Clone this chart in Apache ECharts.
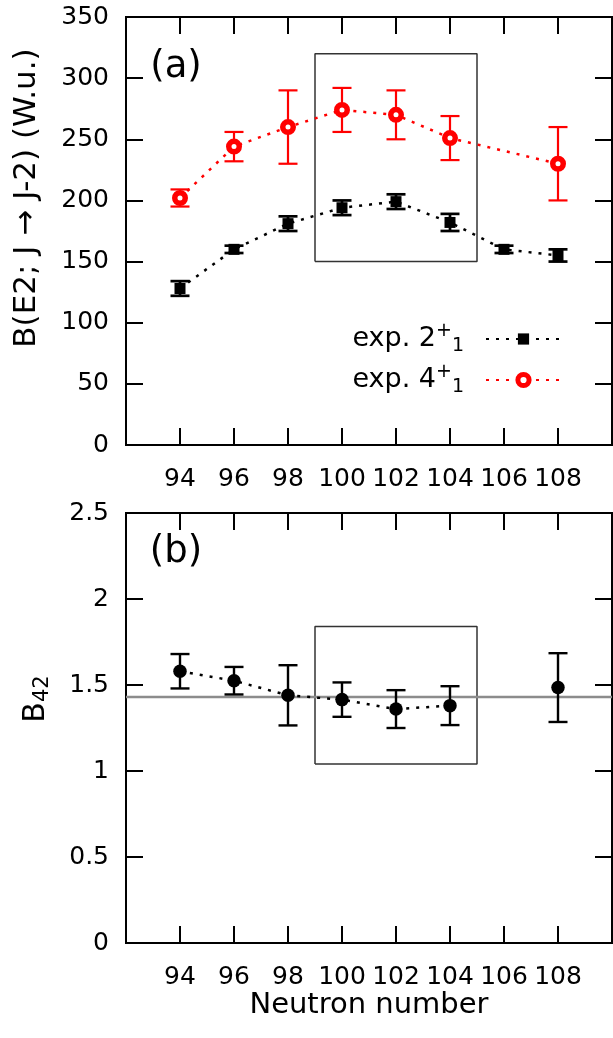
<!DOCTYPE html>
<html><head><meta charset="utf-8">
<script src="https://cdn.jsdelivr.net/npm/echarts@6/dist/echarts.min.js"></script>
<style>html,body{margin:0;padding:0;background:#fff}#c{width:613px;height:1038px}</style>
</head><body><div id="c"></div>
<script>
// ---- data ----
const neutrons2 = [94, 96, 98, 100, 102, 104, 106, 108];
const be2_2 = [128, 160, 181, 194, 199, 182, 160, 155];
const be2_2_err = [6, 3, 6, 6, 6, 7, 3, 5];
const neutrons4 = [94, 96, 98, 100, 102, 104, 108];
const be2_4 = [202, 244, 260, 274, 270, 251, 230];
const be2_4_err = [7, 12, 30, 18, 20, 18, 30];
const neutronsB42 = [94, 96, 98, 100, 102, 104, 108];
const b42 = [1.58, 1.525, 1.44, 1.415, 1.36, 1.38, 1.485];
const b42_err = [0.10, 0.08, 0.175, 0.10, 0.11, 0.113, 0.20];
const b42ConnectedCount = 6;
const su3Limit = 1.43;
const boxA = [[99, 150], [105, 150], [105, 320], [99, 320], [99, 150]];
const boxB = [[99, 1.04], [105, 1.04], [105, 1.84], [99, 1.84], [99, 1.04]];
const xTickLabels = [94, 96, 98, 100, 102, 104, 106, 108];
const xRange = [92, 110];
const yRangeA = [0, 350];
const yRangeB = [0, 2.5];
const name2 = 'exp. 2+1';
const name4 = 'exp. 4+1';

// ---- styles ----
const FF = 'DejaVu Sans';
const RED = '#ff0000';
const chart = echarts.init(document.getElementById('c'), null, {renderer: 'canvas'});

function xAxisCfg(gi, pos, labels, name) {
  return {
    type: 'value', gridIndex: gi, position: pos, min: xRange[0], max: xRange[1], interval: 2,
    axisLine: {show: false, onZero: false}, splitLine: {show: false},
    axisTick: {show: true, inside: true, length: 17, customValues: xTickLabels, lineStyle: {color: '#000', width: 2}},
    axisLabel: {show: labels, margin: 22, fontFamily: FF, fontSize: 25, color: '#000',
      customValues: xTickLabels, formatter: v => String(v)},
    name: name || '', nameLocation: 'middle', nameGap: 46,
    nameTextStyle: {fontFamily: FF, fontSize: 29, color: '#000'}
  };
}
function yAxisCfg(gi, pos, labels, range, interval) {
  return {
    type: 'value', gridIndex: gi, position: pos, min: range[0], max: range[1], interval: interval,
    axisLine: {show: false, onZero: false}, splitLine: {show: false},
    axisTick: {show: true, inside: true, length: 17, lineStyle: {color: '#000', width: 2}},
    axisLabel: {show: labels, margin: 17, fontFamily: FF, fontSize: 25, color: '#000'}
  };
}
function errSeries(xs, vals, errs, color, width, xi, yi) {
  return {
    type: 'custom', xAxisIndex: xi, yAxisIndex: yi, z: 3, silent: true,
    encode: {x: 0, y: [1, 2]},
    data: xs.map((x, i) => [x, vals[i] - errs[i], vals[i] + errs[i]]),
    renderItem: (params, api) => {
      const lo = api.coord([api.value(0), api.value(1)]);
      const hi = api.coord([api.value(0), api.value(2)]);
      const hw = 9.5;
      const style = {stroke: color, lineWidth: width, fill: null};
      return {type: 'group', children: [
        {type: 'line', shape: {x1: lo[0], y1: lo[1], x2: hi[0], y2: hi[1]}, style},
        {type: 'line', shape: {x1: lo[0] - hw, y1: lo[1], x2: lo[0] + hw, y2: lo[1]}, style},
        {type: 'line', shape: {x1: hi[0] - hw, y1: hi[1], x2: hi[0] + hw, y2: hi[1]}, style}
      ]};
    }
  };
}
const dotted = [3, 7];
const legendRich = {
  t: {fontFamily: FF, fontSize: 27, lineHeight: 34, color: '#000'},
  sup: {fontFamily: FF, fontSize: 19, lineHeight: 22, verticalAlign: 'top', color: '#000'},
  sub: {fontFamily: FF, fontSize: 19, lineHeight: 15, verticalAlign: 'bottom', color: '#000'},
  sp: {width: 17}
};

const option = {
  animation: false,
  backgroundColor: '#fff',
  grid: [
    {left: 126, top: 17, right: 1, height: 428, show: true, borderColor: '#000', borderWidth: 2, backgroundColor: 'transparent'},
    {left: 126, top: 513, right: 1, height: 430, show: true, borderColor: '#000', borderWidth: 2, backgroundColor: 'transparent'}
  ],
  xAxis: [
    xAxisCfg(0, 'bottom', true),
    xAxisCfg(0, 'top', false),
    xAxisCfg(1, 'bottom', true, 'Neutron number'),
    xAxisCfg(1, 'top', false)
  ],
  yAxis: [
    yAxisCfg(0, 'left', true, yRangeA, 50),
    yAxisCfg(0, 'right', false, yRangeA, 50),
    yAxisCfg(1, 'left', true, yRangeB, 0.5),
    yAxisCfg(1, 'right', false, yRangeB, 0.5)
  ],
  legend: {
    orient: 'vertical', align: 'right', right: 46, top: 317,
    itemWidth: 75, itemHeight: 14, itemGap: 7,
    data: [
      {name: name2},
      {name: name4, itemStyle: {borderWidth: 5}}
    ],
    formatter: n => n === name2 ? '{t|exp. 2}{sup|+}{sub|1}{sp|}' : '{t|exp. 4}{sup|+}{sub|1}{sp|}',
    textStyle: {rich: legendRich, fontFamily: FF, fontSize: 27, color: '#000'},
    selectedMode: false
  },
  graphic: [
    {type: 'text', x: 176, y: 67, style: {text: '(a)', fontFamily: FF, fontSize: 37, fill: '#000', align: 'center', verticalAlign: 'middle'}},
    {type: 'text', x: 176, y: 552, style: {text: '(b)', fontFamily: FF, fontSize: 37, fill: '#000', align: 'center', verticalAlign: 'middle'}},
    {type: 'text', x: 27, y: 198, rotation: Math.PI / 2, style: {text: 'B(E2; J \u2192 J-2) (W.u.)', fontFamily: FF, fontSize: 31, fill: '#000', align: 'center', verticalAlign: 'middle'}},
    {type: 'text', x: 36, y: 699, rotation: Math.PI / 2, style: {
      text: '{b|B}{s|42}', align: 'center', verticalAlign: 'middle',
      rich: {
        b: {fontFamily: FF, fontSize: 30, lineHeight: 34, fill: '#000'},
        s: {fontFamily: FF, fontSize: 21, lineHeight: 14, verticalAlign: 'bottom', fill: '#000'}
      }}}
  ],
  series: [
    // boxes
    {type: 'line', xAxisIndex: 0, yAxisIndex: 0, data: boxA, symbol: 'none', silent: true, z: 1,
      lineStyle: {color: '#333', width: 1.5}},
    {type: 'line', xAxisIndex: 2, yAxisIndex: 2, data: boxB, symbol: 'none', silent: true, z: 1,
      lineStyle: {color: '#333', width: 1.5}},
    // SU(3) line
    {type: 'line', xAxisIndex: 2, yAxisIndex: 2, data: [[xRange[0], su3Limit], [xRange[1], su3Limit]],
      symbol: 'none', silent: true, z: 1, lineStyle: {color: '#8c8c8c', width: 2.5}},
    // error bars
    errSeries(neutrons2, be2_2, be2_2_err, '#000', 2.7, 0, 0),
    errSeries(neutrons4, be2_4, be2_4_err, RED, 2.2, 0, 0),
    errSeries(neutronsB42, b42, b42_err, '#000', 2.4, 2, 2),
    // main series
    {name: name2, type: 'line', xAxisIndex: 0, yAxisIndex: 0, z: 4,
      data: neutrons2.map((x, i) => [x, be2_2[i]]),
      symbol: 'rect', symbolSize: 11, itemStyle: {color: '#000'},
      lineStyle: {color: '#000', width: 2.5, type: dotted}},
    {name: name4, type: 'line', xAxisIndex: 0, yAxisIndex: 0, z: 4,
      data: neutrons4.map((x, i) => [x, be2_4[i]]),
      symbol: 'circle', symbolSize: 10.5, itemStyle: {color: '#fff', borderColor: RED, borderWidth: 5.5},
      lineStyle: {color: RED, width: 2.5, type: dotted}},
    {type: 'line', xAxisIndex: 2, yAxisIndex: 2, z: 4,
      data: neutronsB42.slice(0, b42ConnectedCount).map((x, i) => [x, b42[i]]),
      symbol: 'none', lineStyle: {color: '#000', width: 2.5, type: dotted}},
    {type: 'scatter', xAxisIndex: 2, yAxisIndex: 2, z: 5,
      data: neutronsB42.map((x, i) => [x, b42[i]]),
      symbol: 'circle', symbolSize: 13.5, itemStyle: {color: '#000', opacity: 1}}
  ]
};
chart.setOption(option);
</script>
</body></html>
